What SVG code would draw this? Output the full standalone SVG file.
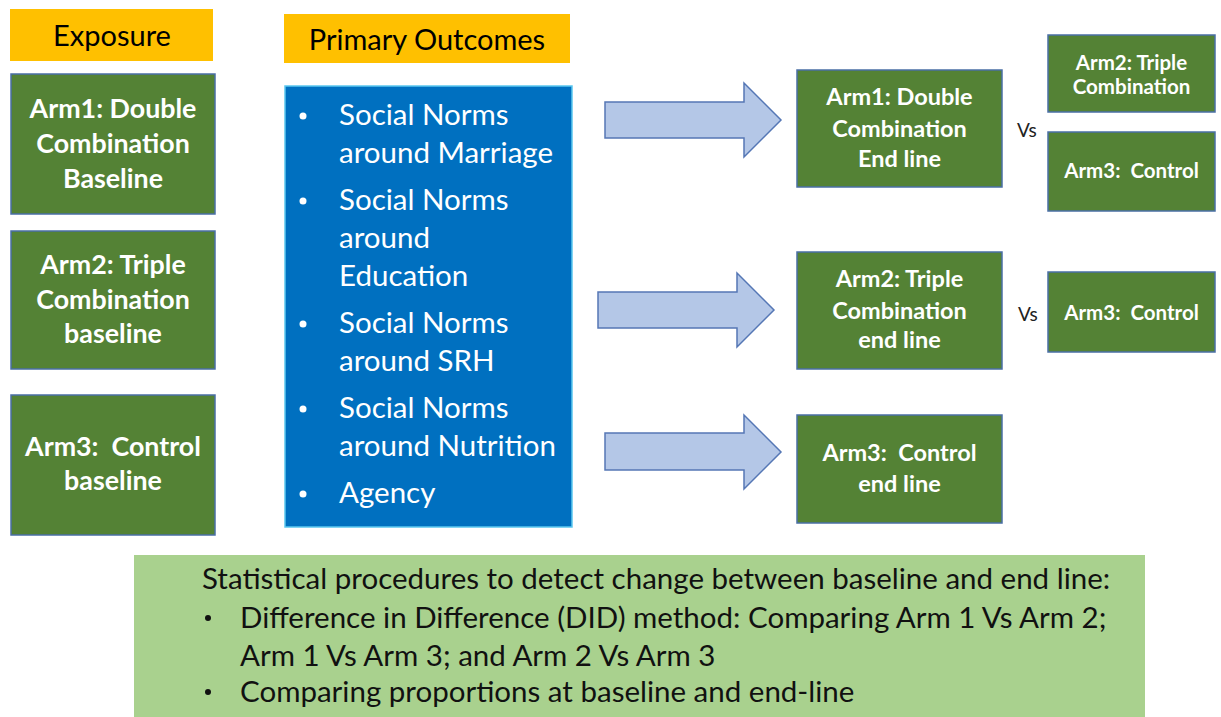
<svg xmlns="http://www.w3.org/2000/svg" width="1221" height="717" viewBox="0 0 1221 717">
<style>
  .hdr { fill: #FFC000; }
  .hdrt { font-family: Lato, "Liberation Sans", sans-serif; font-size: 29px; fill: #000; text-anchor: middle; }
  .gbox { fill: #548235; stroke: #4A6FA5; stroke-width: 1.5; }
  .gt { font-family: Lato, "Liberation Sans", sans-serif; font-weight: bold; fill: #fff; text-anchor: middle; }
  .l { font-size: 26.8px; }
  .m { font-size: 23.5px; }
  .s { font-size: 20.5px; }
  .bbox { fill: #0070C0; stroke: #5BC8F0; stroke-width: 1.5; }
  .bt { font-family: Lato, "Liberation Sans", sans-serif; font-size: 29.5px; fill: #fff; }
  .arr { fill: #B4C7E7; stroke: #5577B5; stroke-width: 1.5; }
  .vs { font-family: Lato, "Liberation Sans", sans-serif; font-size: 19px; fill: #222; }
  .stat { fill: #A9D18E; }
  .st { font-family: Lato, "Liberation Sans", sans-serif; font-size: 29.5px; fill: #111; }
</style>

<g id="exposure-header">
  <rect class="hdr" x="10" y="9" width="203" height="52"/>
  <text class="hdrt" x="112" y="46">Exposure</text>
</g>

<g id="arm1-baseline">
  <rect class="gbox" x="11" y="74" width="204" height="140"/>
  <text class="gt l" x="113" y="118">Arm1: Double</text>
  <text class="gt l" x="113" y="153">Combination</text>
  <text class="gt l" x="113" y="188">Baseline</text>
</g>

<g id="arm2-baseline">
  <rect class="gbox" x="11" y="231" width="204" height="138"/>
  <text class="gt l" x="113" y="274">Arm2: Triple</text>
  <text class="gt l" x="113" y="309">Combination</text>
  <text class="gt l" x="113" y="343">baseline</text>
</g>

<g id="arm3-baseline">
  <rect class="gbox" x="11" y="395" width="204" height="140"/>
  <text class="gt l" x="113" y="456" xml:space="preserve">Arm3:  Control</text>
  <text class="gt l" x="113" y="490">baseline</text>
</g>

<g id="outcomes-header">
  <rect class="hdr" x="284" y="14" width="286" height="49"/>
  <text class="hdrt" x="427" y="50">Primary Outcomes</text>
</g>

<g id="primary-outcomes">
  <rect class="bbox" x="285" y="86" width="287" height="441"/>
  <g fill="#fff">
    <circle cx="303" cy="116" r="3.5"/>
    <circle cx="303" cy="201" r="3.5"/>
    <circle cx="303" cy="324" r="3.5"/>
    <circle cx="303" cy="409" r="3.5"/>
    <circle cx="303" cy="494" r="3.5"/>
  </g>
  <text class="bt" x="339" y="125">Social Norms</text>
  <text class="bt" x="339" y="163">around Marriage</text>
  <text class="bt" x="339" y="210">Social Norms</text>
  <text class="bt" x="339" y="248">around</text>
  <text class="bt" x="339" y="286">Education</text>
  <text class="bt" x="339" y="333">Social Norms</text>
  <text class="bt" x="339" y="371">around SRH</text>
  <text class="bt" x="339" y="418">Social Norms</text>
  <text class="bt" x="339" y="456">around Nutrition</text>
  <text class="bt" x="339" y="503">Agency</text>
</g>

<g id="connectors">
  <path class="arr" d="M605,102 H744 V83 L781,120 L744,157 V138 H605 Z"/>
  <path class="arr" d="M598,292 H737 V273 L774,310 L737,347 V328 H598 Z"/>
  <path class="arr" d="M605,433 H744 V415 L781,452 L744,489 V470 H605 Z"/>
</g>

<g id="arm1-endline">
  <rect class="gbox" x="797" y="70" width="205" height="117"/>
  <text class="gt m" x="899.5" y="105">Arm1: Double</text>
  <text class="gt m" x="899.5" y="137">Combination</text>
  <text class="gt m" x="899.5" y="167">End line</text>
</g>

<g id="arm2-endline">
  <rect class="gbox" x="797" y="252" width="205" height="117"/>
  <text class="gt m" x="899.5" y="287">Arm2: Triple</text>
  <text class="gt m" x="899.5" y="319">Combination</text>
  <text class="gt m" x="899.5" y="348">end line</text>
</g>

<g id="arm3-endline">
  <rect class="gbox" x="797" y="415" width="205" height="108"/>
  <text class="gt m" x="899.5" y="461" xml:space="preserve">Arm3:  Control</text>
  <text class="gt m" x="899.5" y="492">end line</text>
</g>

<g id="vs1">
  <text class="vs" x="1017" y="137">Vs</text>
</g>

<g id="cmp-arm2">
  <rect class="gbox" x="1048" y="35" width="167" height="77"/>
  <text class="gt s" x="1131.5" y="70">Arm2: Triple</text>
  <text class="gt s" x="1131.5" y="94">Combination</text>
</g>

<g id="cmp-arm3-a">
  <rect class="gbox" x="1048" y="132" width="167" height="79"/>
  <text class="gt s" x="1131.5" y="178" xml:space="preserve">Arm3:  Control</text>
</g>

<g id="vs2">
  <text class="vs" x="1018" y="321">Vs</text>
</g>

<g id="cmp-arm3-b">
  <rect class="gbox" x="1048" y="272" width="167" height="80"/>
  <text class="gt s" x="1131.5" y="320" xml:space="preserve">Arm3:  Control</text>
</g>

<g id="statistical-procedures">
  <rect class="stat" x="134" y="555" width="1011" height="162"/>
  <text class="st" x="202" y="589">Statistical procedures to detect change between baseline and end line:</text>
  <circle cx="208" cy="618" r="3" fill="#111"/>
  <text class="st" x="240" y="628">Difference in Difference (DID) method: Comparing Arm 1 Vs Arm 2;</text>
  <text class="st" x="240" y="666">Arm 1 Vs Arm 3; and Arm 2 Vs Arm 3</text>
  <circle cx="208" cy="692" r="3" fill="#111"/>
  <text class="st" x="240" y="702">Comparing proportions at baseline and end-line</text>
</g>
</svg>
